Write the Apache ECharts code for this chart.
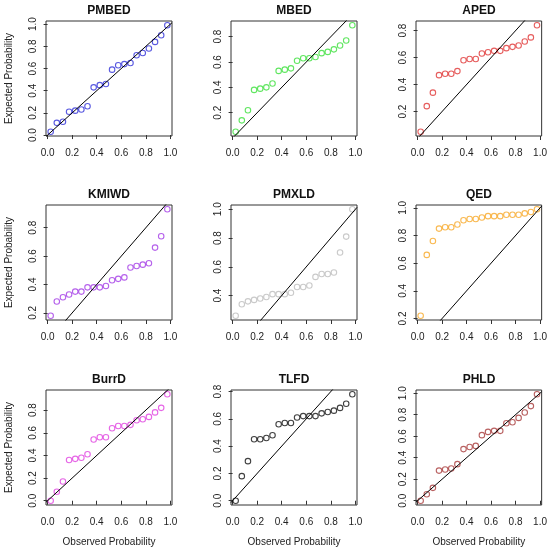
<!DOCTYPE html>
<html>
<head>
<meta charset="utf-8">
<script src="https://cdn.jsdelivr.net/npm/echarts@6/dist/echarts.min.js"></script>
<style>
  html, body { margin: 0; padding: 0; background: #fff; }
  #chart { width: 550px; height: 552px; }
</style>
</head>
<body>
<div id="chart"></div>
<script>
// observed probabilities (same for every panel)
var observed = [0.025, 0.075, 0.125, 0.175, 0.225, 0.275, 0.325, 0.375, 0.425, 0.475,
                0.525, 0.575, 0.625, 0.675, 0.725, 0.775, 0.825, 0.875, 0.925, 0.975];

// expected probabilities, one array per distribution
var pmbed = [0.03, 0.11, 0.12, 0.21, 0.22, 0.23, 0.26, 0.43, 0.45, 0.46, 0.59, 0.63, 0.64, 0.65, 0.72, 0.74, 0.78, 0.84, 0.90, 0.99];
var mbed  = [0.05, 0.14, 0.22, 0.38, 0.39, 0.40, 0.43, 0.53, 0.54, 0.55, 0.61, 0.63, 0.63, 0.64, 0.67, 0.68, 0.70, 0.73, 0.77, 0.89];
var aped  = [0.05, 0.24, 0.34, 0.47, 0.48, 0.48, 0.50, 0.58, 0.59, 0.59, 0.63, 0.64, 0.65, 0.65, 0.67, 0.68, 0.69, 0.72, 0.75, 0.84];
var kmiwd = [0.18, 0.28, 0.31, 0.33, 0.35, 0.35, 0.38, 0.38, 0.38, 0.39, 0.43, 0.44, 0.45, 0.52, 0.53, 0.54, 0.55, 0.66, 0.74, 0.93];
var pmxld = [0.26, 0.34, 0.36, 0.37, 0.38, 0.39, 0.41, 0.41, 0.41, 0.42, 0.46, 0.46, 0.47, 0.53, 0.55, 0.55, 0.56, 0.70, 0.81, 1.00];
var qed   = [0.22, 0.66, 0.76, 0.85, 0.86, 0.86, 0.88, 0.91, 0.92, 0.92, 0.93, 0.94, 0.94, 0.94, 0.95, 0.95, 0.95, 0.96, 0.97, 0.99];
var burrd = [0.00, 0.08, 0.17, 0.36, 0.37, 0.38, 0.41, 0.54, 0.56, 0.56, 0.64, 0.66, 0.66, 0.67, 0.71, 0.72, 0.74, 0.78, 0.82, 0.94];
var tlfd  = [0.00, 0.18, 0.29, 0.45, 0.45, 0.46, 0.48, 0.56, 0.57, 0.57, 0.61, 0.62, 0.62, 0.62, 0.64, 0.65, 0.66, 0.68, 0.71, 0.78];
var phld  = [0.00, 0.06, 0.12, 0.28, 0.29, 0.30, 0.34, 0.48, 0.50, 0.51, 0.61, 0.64, 0.65, 0.65, 0.72, 0.73, 0.77, 0.82, 0.88, 0.99];

var names = ['PMBED', 'MBED', 'APED', 'KMIWD', 'PMXLD', 'QED', 'BurrD', 'TLFD', 'PHLD'];
var values = [pmbed, mbed, aped, kmiwd, pmxld, qed, burrd, tlfd, phld];

// tick labels
var xTicks = [0, 0.2, 0.4, 0.6, 0.8, 1.0];
var yTicks = [
  [0, 0.2, 0.4, 0.6, 0.8, 1.0],
  [0.2, 0.4, 0.6, 0.8],
  [0.2, 0.4, 0.6, 0.8],
  [0.2, 0.4, 0.6, 0.8],
  [0.4, 0.6, 0.8, 1.0],
  [0.2, 0.4, 0.6, 0.8, 1.0],
  [0, 0.2, 0.4, 0.6, 0.8],
  [0, 0.2, 0.4, 0.6, 0.8],
  [0, 0.2, 0.4, 0.6, 0.8, 1.0]
];

var colors = ['#3030d8', '#3ae03a', '#e03434', '#a23ae6', '#bdbdbd', '#f7a826', '#e040e0', '#111111', '#a83a3a'];

var chart = echarts.init(document.getElementById('chart'));

var font = 'Liberation Sans, Arial, sans-serif';
var colLeft = [46, 231, 416];
var rowTop = [21, 205, 390];
var gw = 126, gh = 115;

// R style range: data range widened by 4% on each side
function rRange(arr) {
  var lo = Math.min.apply(null, arr), hi = Math.max.apply(null, arr);
  var d = (hi - lo) * 0.04;
  return [lo - d, hi + d];
}

var grids = [], xAxes = [], yAxes = [], series = [], titles = [];
var xr = rRange(observed);

for (var i = 0; i < 9; i++) {
  var r = Math.floor(i / 3), c = i % 3;
  var yr = rRange(values[i]);
  grids.push({
    left: colLeft[c], top: rowTop[r], width: gw, height: gh,
    show: true, borderColor: '#333', borderWidth: 1, backgroundColor: 'transparent'
  });
  titles.push({
    text: names[i], padding: 0,
    left: colLeft[c] + gw / 2, top: rowTop[r] - 16, textAlign: 'center',
    textStyle: { fontFamily: font, fontSize: 12, fontWeight: 'bold', color: '#111' }
  });
  xAxes.push({
    type: 'value', gridIndex: i, min: xr[0], max: xr[1],
    name: r === 2 ? 'Observed Probability' : '',
    nameLocation: 'middle', nameGap: 32,
    nameTextStyle: { fontFamily: font, fontSize: 10, color: '#222' },
    axisLine: { show: false },
    splitLine: { show: false },
    axisTick: { show: true, inside: false, length: 4, customValues: xTicks, lineStyle: { color: '#333' } },
    axisLabel: {
      customValues: xTicks, margin: 12, fontFamily: font, fontSize: 10, color: '#222',
      formatter: function (v) { return v.toFixed(1); }
    }
  });
  yAxes.push({
    type: 'value', gridIndex: i, min: yr[0], max: yr[1],
    name: c === 0 ? 'Expected Probability' : '',
    nameLocation: 'middle', nameGap: 32,
    nameTextStyle: { fontFamily: font, fontSize: 10, color: '#222' },
    axisLine: { show: false },
    splitLine: { show: false },
    axisTick: { show: true, inside: false, length: 4, customValues: yTicks[i], lineStyle: { color: '#333' } },
    axisLabel: {
      customValues: yTicks[i], rotate: 90, margin: 8, fontFamily: font, fontSize: 10, color: '#222',
      formatter: function (v) { return v.toFixed(1); }
    }
  });
  var pts = [];
  for (var k = 0; k < observed.length; k++) pts.push([observed[k], values[i][k]]);
  series.push({
    type: 'scatter', xAxisIndex: i, yAxisIndex: i, data: pts,
    symbol: 'circle', symbolSize: 5.5, silent: true,
    itemStyle: { color: 'rgba(255,255,255,0)', borderColor: colors[i], borderWidth: 1.1 }
  });
  // y = x reference line across the plot
  series.push({
    type: 'line', xAxisIndex: i, yAxisIndex: i, clip: true, silent: true,
    data: [[xr[0], xr[0]], [xr[1], xr[1]]],
    symbol: 'none', lineStyle: { color: '#000', width: 1 }
  });
}

chart.setOption({
  animation: false,
  title: titles,
  grid: grids,
  xAxis: xAxes,
  yAxis: yAxes,
  series: series
});
</script>
</body>
</html>
